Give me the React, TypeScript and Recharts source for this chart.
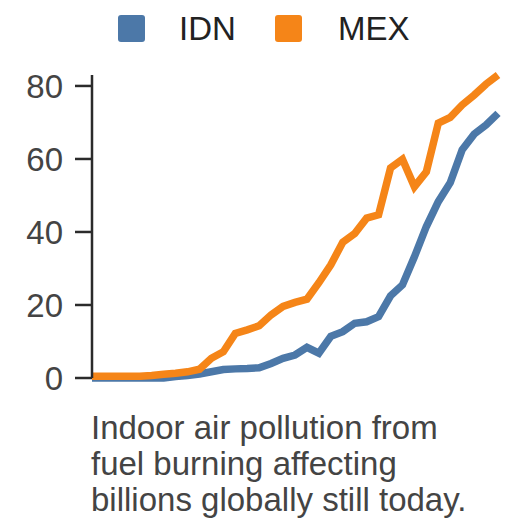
import React from 'react';
import { LineChart, Line, XAxis, YAxis } from 'recharts';

const years = [
  1990, 1991, 1992, 1993, 1994, 1995, 1996, 1997, 1998, 1999,
  2000, 2001, 2002, 2003, 2004, 2005, 2006, 2007, 2008, 2009,
  2010, 2011, 2012, 2013, 2014, 2015, 2016, 2017, 2018, 2019,
  2020, 2021, 2022, 2023, 2024,
];

const idn = [
  0, 0, 0, 0, 0, 0, 0, 0.4, 0.7, 1.1,
  1.7, 2.3, 2.5, 2.6, 2.8, 4.0, 5.4, 6.3, 8.4, 6.8,
  11.4, 12.7, 15.0, 15.4, 16.8, 22.5, 25.5, 33.2, 41.5, 48.3,
  53.5, 62.5, 66.8, 69.3, 72.5,
];

const mex = [
  0.5, 0.5, 0.5, 0.5, 0.5, 0.7, 1.0, 1.3, 1.7, 2.4,
  5.4, 7.2, 12.2, 13.2, 14.3, 17.3, 19.6, 20.7, 21.6, 26.1,
  31.0, 37.2, 39.6, 43.8, 44.7, 57.5, 59.9, 52.4, 56.5, 69.8,
  71.4, 74.8, 77.5, 80.5, 83.0,
];

const yTicks = [0, 20, 40, 60, 80];

const seriesNames = ['IDN', 'MEX'];
const seriesColors = ['#4c78a8', '#f58518'];

const captionLines = [
  'Indoor air pollution from',
  'fuel burning affecting',
  'billions globally still today.',
];

const data = years.map((y, i) => ({ year: y, IDN: idn[i], MEX: mex[i] }));

const FONT = '"Liberation Sans", Arial, sans-serif';
const FS = 33;

const ChartLegend = () => {
  const squareX = [118, 275];
  const textX = [179, 338];
  return (
    <svg width={528} height={60} style={{ position: 'absolute', left: 0, top: 0 }}>
      {seriesNames.map((name, i) => (
        <g key={name}>
          <rect x={squareX[i]} y={15} width={27} height={27} rx={3} ry={3} fill={seriesColors[i]} />
          <text x={textX[i]} y={40} fontSize={FS} fontFamily={FONT} fill="#222">
            {name}
          </text>
        </g>
      ))}
    </svg>
  );
};

export default function App() {
  return (
    <div style={{ position: 'absolute', left: 0, top: 0, width: 528, height: 528, background: '#fff' }}>
      <div style={{ position: 'absolute', left: 0, top: 0 }}>
        <LineChart
          width={528}
          height={402}
          data={data}
          margin={{ top: 75, right: 30, bottom: 24, left: 0 }}
        >
          <XAxis
            dataKey="year"
            type="number"
            domain={['dataMin', 'dataMax']}
            height={0}
            tick={false}
            tickLine={false}
            axisLine={{ stroke: '#dde0e4', strokeWidth: 2.5 }}
          />
          <YAxis
            width={92}
            domain={[0, 'dataMax']}
            ticks={yTicks}
            interval={0}
            tickSize={17}
            tickMargin={12}
            axisLine={{ stroke: '#2b2b2b', strokeWidth: 2.5 }}
            tickLine={{ stroke: '#2b2b2b', strokeWidth: 2.5 }}
            tick={{ fontSize: FS, fontFamily: FONT, fill: '#444' }}
          />
          {seriesNames.map((name, i) => (
            <Line
              key={name}
              dataKey={name}
              type="linear"
              stroke={seriesColors[i]}
              strokeWidth={7.5}
              dot={false}
              activeDot={false}
              isAnimationActive={false}
            />
          ))}
        </LineChart>
      </div>
      <ChartLegend />
      <svg width={528} height={128} style={{ position: 'absolute', left: 0, top: 400 }}>
        {captionLines.map((line, i) => (
          <text key={i} x={91} y={39.3 + i * 35.7} fontSize={FS} fontFamily={FONT} fill="#444">
            {line}
          </text>
        ))}
      </svg>
    </div>
  );
}
